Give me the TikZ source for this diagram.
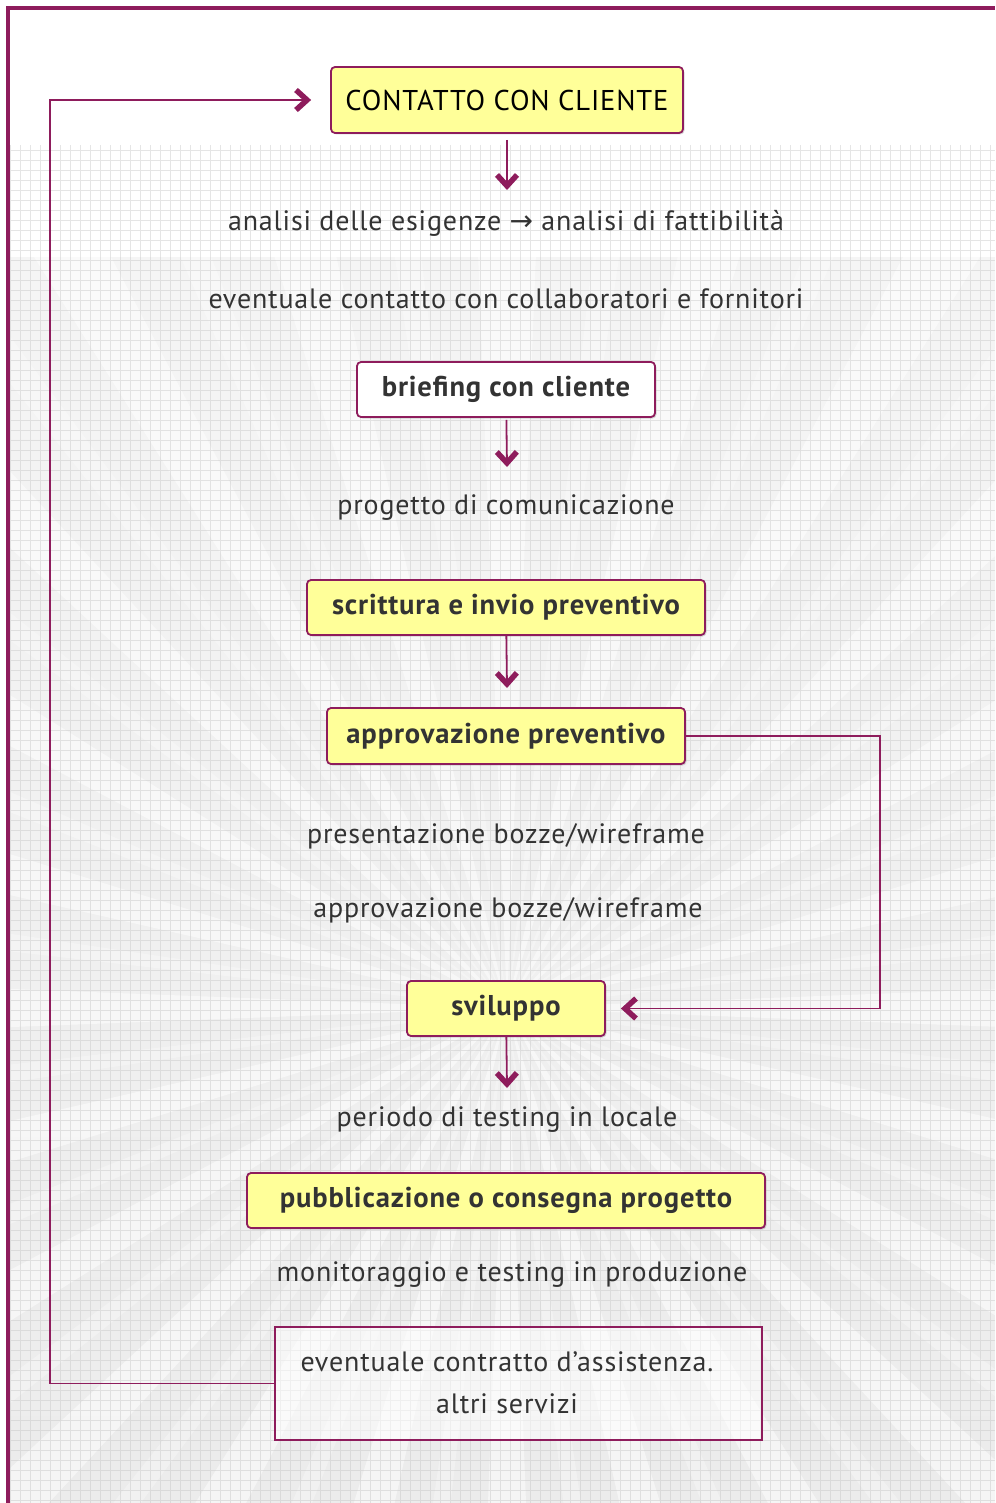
\documentclass[tikz,border=0pt]{standalone}
\usepackage{fontspec}
\setmainfont{PT Sans}[LetterSpace=3]
\newfontfamily\arrowfont{DejaVu Sans}
\usetikzlibrary{arrows.meta}
\usetikzlibrary{shadows}
\usetikzlibrary{positioning}

\definecolor{vino}{HTML}{8E1C5C}
\definecolor{giallo}{HTML}{FFFF99}
\definecolor{testo}{HTML}{333333}

\tikzset{
    fase/.style={draw = vino, line width = 1.8, fill = giallo, rounded corners = 4,
        minimum height = 55, text = testo, font = \fontsize{28.6}{32}\selectfont\bfseries,
        drop shadow = {shadow xshift = 1.5pt, shadow yshift = -1.5pt, opacity = .3}},
    nota/.style={text = testo, inner sep = 0, font = \fontsize{28}{32}\selectfont},
    freccia/.style={draw = vino, line width = 1.8,
        -{Straight Barb[length = 11pt, width = 20pt, line width = 5.5pt]}}
}

\begin{document}
\begin{tikzpicture}[x = 1pt, y = -1pt]
    \useasboundingbox (0, 0) rectangle (995, 1503);

    \fill[white] (0, 0) rectangle (995, 1503);
    \shade[top color = gray!8, bottom color = gray!15] (8, 258) rectangle (995, 1503);
    \begin{scope}
        \clip (8, 258) rectangle (995, 1503);
        \foreach \a in {0, 15, ..., 345}
            \fill[white, opacity = .5, shift = {(507, 1008)}]
                (0, 0) -- (\a - 2.2 : 1300) -- (\a + 2.2 : 1300) -- cycle;
        \foreach \a in {7.5, 22.5, ..., 352.5}
            \fill[white, opacity = .3, shift = {(507, 1008)}]
                (0, 0) -- (\a - 1 : 1300) -- (\a + 1 : 1300) -- cycle;
    \end{scope}
    \draw[gray!45, opacity = .45, line width = .9, step = 10pt] (8, 145) grid (995, 1503);
    \draw[vino, line width = 4] (8, 1503) -- (8, 8) -- (995, 8);

    \node[fase, minimum width = 352, minimum height = 66, text = black,
        font = \fontsize{28.6}{32}\selectfont] (contatto) at (507, 100) {CONTATTO CON CLIENTE};
    \node[nota] (analisi) at (506, 223)
        {analisi delle esigenze {\arrowfont\fontsize{28}{30}\selectfont →} analisi di fattibilità};
    \node[nota] (collab) at (506, 299) {eventuale contatto con collaboratori e fornitori};
    \node[fase, fill = white, minimum width = 298] (briefing) at (506, 389.5) {briefing con cliente};
    \node[nota] (progetto) at (506, 508) {progetto di comunicazione};
    \node[fase, minimum width = 398] (scrittura) at (506, 607.5) {scrittura e invio preventivo};
    \node[fase, minimum width = 358, minimum height = 56] (approv) at (506, 736) {approvazione preventivo};
    \node[nota] (bozze) at (506, 836) {presentazione bozze/wireframe};
    \node[nota] (okbozze) at (508, 910) {approvazione bozze/wireframe};
    \node[fase, minimum width = 198] (sviluppo) at (506, 1008.5) {sviluppo};
    \node[nota] (locale) at (507, 1120) {periodo di testing in locale};
    \node[fase, minimum width = 518] (pubblica) at (506, 1200.5) {pubblicazione o consegna progetto};
    \node[nota] (monitor) at (512, 1275) {monitoraggio e testing in produzione};
    \node[draw = vino, line width = 1.8, fill = white, fill opacity = .5,
        minimum width = 487, minimum height = 113] (assist) at (518.5, 1383.5) {};
    \node[nota, align = center, font = \fontsize{28}{42}\selectfont] (servizi) at (507, 1383)
        {eventuale contratto d’assistenza.\\altri servizi};

    \coordinate (p1) at (507, 190);
    \coordinate (p2) at (507, 467);
    \coordinate (p3) at (507, 688);
    \coordinate (p4) at (507, 1088);

    \draw[freccia, shorten < = 6] (contatto) -- (p1);
    \draw[freccia, shorten < = 2] (briefing) -- (p2);
    \draw[freccia] (scrittura) -- (p3);
    \draw[freccia] (sviluppo) -- (p4);
    \draw[freccia, shorten > = 15] (approv.east) -- ++(194, 0) |- (sviluppo.east);
    \draw[freccia, shorten > = 19] (assist.west) -- ++(-224, 0) |- (contatto.west);
\end{tikzpicture}
\end{document}
